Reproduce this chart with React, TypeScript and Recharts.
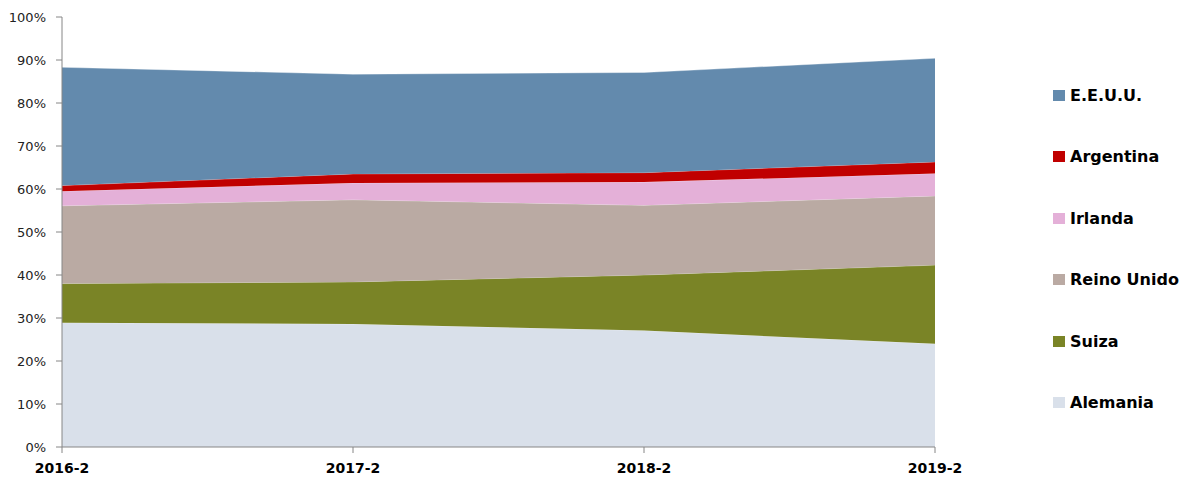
import React from "react";
import { AreaChart, Area, XAxis, YAxis } from "recharts";

const periods = ["2016-2", "2017-2", "2018-2", "2019-2"];
const alemania = [28.9, 28.6, 27.1, 24.0];
const suiza = [9.1, 9.8, 12.9, 18.3];
const reinoUnido = [18.1, 19.1, 16.2, 16.1];
const irlanda = [3.4, 3.9, 5.4, 5.2];
const argentina = [1.3, 2.1, 2.2, 2.7];
const eeuu = [27.5, 23.2, 23.3, 24.1];
const yTicks = [0, 10, 20, 30, 40, 50, 60, 70, 80, 90, 100];

const series = [
  { key: "Alemania", values: alemania, color: "#D9E0EA" },
  { key: "Suiza", values: suiza, color: "#7A8426" },
  { key: "Reino Unido", values: reinoUnido, color: "#BAAAA3" },
  { key: "Irlanda", values: irlanda, color: "#E4B0D8" },
  { key: "Argentina", values: argentina, color: "#C00000" },
  { key: "E.E.U.U.", values: eeuu, color: "#638AAD" },
];

const data = periods.map((p, i) => {
  const row: Record<string, number | string> = { period: p };
  series.forEach((s) => {
    row[s.key] = s.values[i];
  });
  return row;
});

const FONT = "'DejaVu Sans', Verdana, sans-serif";

export default function App() {
  const legendItems = [...series].reverse();
  return (
    <div style={{ position: "absolute", left: 0, top: 0, width: 1183, height: 478, background: "#fff" }}>
      <AreaChart
        width={1183}
        height={478}
        data={data}
        margin={{ top: 17, right: 248, bottom: 0, left: 0 }}
      >
        <XAxis
          dataKey="period"
          height={31}
          stroke="#868686"
          tickLine={{ stroke: "#868686" }}
          tickSize={6}
          tickMargin={10}
          interval={0}
          tick={{ fill: "#000", fontSize: 14, fontWeight: "bold", fontFamily: FONT }}
        />
        <YAxis
          width={62}
          domain={[0, 100]}
          ticks={yTicks}
          interval={0}
          stroke="#868686"
          tickLine={{ stroke: "#868686" }}
          tickSize={6}
          tickMargin={10}
          tickFormatter={(v: number) => `${v}%`}
          tick={{ fill: "#222", fontSize: 13, fontFamily: FONT }}
        />
        {series.map((s) => (
          <Area
            key={s.key}
            type="linear"
            dataKey={s.key}
            stackId="1"
            fill={s.color}
            fillOpacity={1}
            stroke="#ffffff"
            strokeOpacity={0.35}
            strokeWidth={1}
            isAnimationActive={false}
          />
        ))}
      </AreaChart>
      <div style={{ position: "absolute", left: 1053, top: 0 }}>
        {legendItems.map((s, i) => (
          <div
            key={s.key}
            style={{
              position: "absolute",
              left: 0,
              top: 95 + i * 61.5 - 10,
              height: 20,
              display: "flex",
              alignItems: "center",
              whiteSpace: "nowrap",
            }}
          >
            <div style={{ width: 12, height: 11, background: s.color, marginRight: 5 }} />
            <span style={{ fontFamily: FONT, fontWeight: "bold", fontSize: 16, color: "#000" }}>{s.key}</span>
          </div>
        ))}
      </div>
    </div>
  );
}
